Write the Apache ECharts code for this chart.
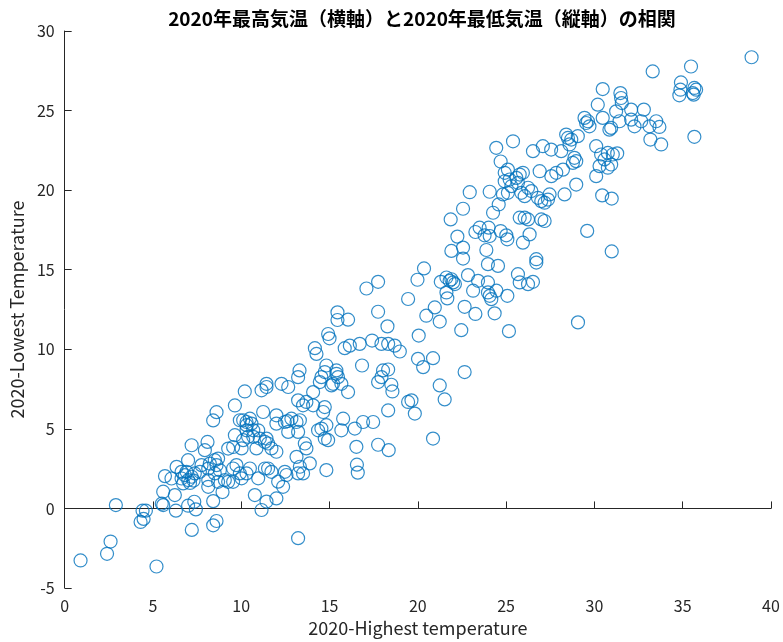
<!DOCTYPE html>
<html>
<head>
<meta charset="utf-8">
<script src="https://cdn.jsdelivr.net/npm/echarts@6/dist/echarts.min.js"></script>
<style>
html,body{margin:0;padding:0;background:#fff;}
#chart{width:783px;height:642px;}
</style>
</head>
<body>
<div id="chart"></div>
<script>
// 2020 daily highest temperature (x) and lowest temperature (y)
const highTemp = [
0.9,2.4,2.6,2.9,4.3,4.47,4.41,4.6,5.2,9.64,8.6,8.41,9.64,7.19,8.09,7.94,9.26,9.54,6.99,6.34,
5.68,6.05,6.62,6.81,7.0,7.19,6.71,7.37,7.75,8.13,8.22,8.5,8.69,8.6,8.79,8.5,8.13,8.13,8.69,9.07,
9.26,9.54,9.54,8.94,8.41,5.58,6.24,5.58,5.5,6.3,6.99,7.34,7.43,7.2,8.41,8.6,7.66,9.73,6.62,7.1,
6.9,7.3,
13.3,13.22,14.73,14.82,15.39,15.48,15.67,16.05,15.2,14.45,14.54,14.07,12.28,12.66,11.43,11.43,11.15,10.2,11.24,11.99,
11.99,12.84,12.62,13.13,13.32,13.22,13.5,13.69,14.07,14.64,14.73,14.54,14.82,14.73,14.92,14.35,15.77,15.67,16.43,16.52,
16.55,16.6,14.82,13.22,13.6,13.69,13.13,13.32,13.22,13.88,13.5,12.47,12.56,12.37,12.09,11.99,11.43,11.15,10.77,10.96,
11.52,11.34,11.71,10.49,10.02,9.92,10.3,13.22,10.02,10.11,10.68,11.05,10.86,11.52,11.71,11.99,11.34,10.3,10.39,10.96,
11.43,9.92,10.11,10.3,10.58,10.49,10.3,10.68,12.47,12.66,15.11,15.39,
20.35,19.98,21.3,21.62,21.8,22.0,21.9,22.1,21.62,21.67,20.96,20.48,21.24,19.45,17.75,17.09,17.75,18.28,20.05,20.01,
20.3,20.86,21.24,21.52,20.86,15.45,15.45,16.05,14.92,15.0,14.17,14.26,15.86,16.15,16.71,17.41,17.94,18.32,18.69,18.98,
16.84,18.03,18.32,17.94,17.75,18.5,18.56,16.9,17.47,17.75,18.32,19.45,19.64,19.83,18.35,22.65,
22.46,22.65,23.26,22.84,23.13,23.41,23.97,23.97,24.16,24.45,24.07,25.07,24.35,25.16,23.88,23.97,24.54,22.56,22.56,21.9,
22.24,21.86,22.56,22.94,23.26,23.5,23.78,24.01,24.07,24.69,25.01,25.07,24.26,24.58,24.82,25.1,24.07,24.92,25.1,25.2,
24.92,25.3,25.58,25.77,25.95,25.67,25.86,26.05,26.24,26.43,24.69,25.77,26.05,26.24,25.95,26.33,26.71,26.71,25.67,25.77,
26.24,26.52,26.8,26.99,27.18,27.37,27.46,26.9,27.56,27.84,28.22,28.78,28.97,27.18,26.99,28.31,28.97,29.07,
25.39,24.44,26.52,27.08,27.55,28.12,28.4,28.5,28.69,28.59,29.06,28.87,
38.9,35.47,33.3,34.9,34.87,34.81,35.66,35.76,35.57,35.62,35.66,30.47,31.47,31.51,31.55,30.19,31.23,32.08,32.8,30.47,
30.95,30.85,31.42,32.08,32.27,32.65,33.12,33.5,33.68,33.17,33.78,29.44,29.63,29.72,29.53,30.1,30.38,30.76,31.04,31.29,
30.57,30.95,30.76,30.29,30.1,30.44,30.98,29.59,30.98
];
const lowTemp = [
-3.27,-2.85,-2.08,0.21,-0.85,-0.66,-0.14,-0.14,-3.65,6.47,6.05,5.53,4.6,3.97,4.18,3.66,3.76,3.86,3.03,2.61,
2.03,1.88,1.88,2.09,1.78,1.99,1.57,2.2,2.72,2.5,2.82,3.03,3.13,2.72,2.4,2.2,1.78,1.36,1.67,1.78,
1.67,2.51,1.67,1.03,0.46,1.05,0.84,0.21,0.3,-0.14,0.17,0.42,-0.06,-1.35,-1.06,-0.79,2.3,2.72,2.3,1.6,
2.3,1.75,
8.67,8.25,8.57,8.98,8.67,8.25,7.83,7.31,7.83,7.94,8.25,7.31,7.83,7.63,7.83,7.63,7.42,7.35,6.06,5.85,
5.33,5.64,5.48,5.43,5.54,6.79,6.48,6.69,6.48,6.06,6.37,5.02,5.23,4.39,4.29,4.91,5.64,4.91,5.02,3.87,
2.75,2.25,2.41,4.81,4.08,3.77,3.24,2.62,2.2,2.83,2.2,2.3,2.1,1.36,1.68,0.63,0.43,-0.1,0.84,1.89,
2.51,2.51,2.3,2.51,1.89,2.2,2.2,-1.87,3.77,4.29,4.5,4.39,3.77,4.08,3.77,3.56,4.18,4.91,4.5,4.91,
4.39,5.54,5.54,5.43,5.33,5.64,5.23,4.91,5.43,4.81,7.73,8.46,
15.08,14.37,14.24,14.51,14.3,14.2,14.4,14.1,13.57,13.2,12.63,12.11,11.74,13.16,14.24,13.82,12.36,11.44,10.86,9.4,
8.88,9.44,7.73,6.85,4.39,12.32,11.84,11.86,10.96,10.69,10.07,9.71,10.07,10.23,10.34,10.55,10.34,10.34,10.23,9.86,
8.98,8.67,8.73,8.25,7.94,7.77,7.35,5.43,5.43,4.0,6.16,6.69,6.79,5.96,3.66,8.57,
11.2,12.67,12.22,14.66,13.68,14.3,14.2,13.57,13.15,13.68,13.36,13.36,12.26,11.14,16.24,15.35,15.24,15.7,16.39,16.18,
17.08,18.16,18.83,19.87,17.37,17.64,17.16,17.64,17.12,17.43,17.16,16.91,18.58,19.1,19.73,19.83,19.9,21.09,21.29,20.67,
20.56,20.25,20.77,20.98,21.09,20.46,19.83,19.62,20.15,19.94,21.8,18.27,18.27,18.16,16.7,17.22,15.66,15.45,14.72,14.2,
14.09,14.24,19.52,19.31,19.21,19.41,19.73,21.19,20.88,21.09,21.29,21.71,21.82,18.06,18.16,19.73,20.35,11.69,
23.07,22.66,22.45,22.76,22.55,22.45,23.49,23.28,23.18,22.87,23.39,22.03,
28.35,27.77,27.46,26.77,26.31,25.96,26.42,26.31,26.1,26.0,23.35,26.35,26.1,25.79,25.47,25.37,24.95,25.06,25.06,24.54,
23.91,23.8,24.33,24.43,24.01,24.33,24.01,24.33,23.97,23.18,22.87,24.54,24.33,24.01,24.22,22.76,22.24,22.34,22.24,22.31,
21.93,21.61,21.41,21.51,20.88,19.67,19.47,17.44,16.15
];
const titleText = '2020年最高気温（横軸）と2020年最低気温（縦軸）の相関';
const xName = '2020-Highest temperature';
const yName = '2020-Lowest Temperature';

const points = highTemp.map((x, i) => [x, lowTemp[i]]);
const axisColor = '#262626';
const font = 'Noto Sans CJK JP';

const chart = echarts.init(document.getElementById('chart'), null, {renderer: 'canvas'});
chart.setOption({
  animation: false,
  backgroundColor: '#ffffff',
  title: {
    text: titleText,
    left: 417,
    top: 4,
    textAlign: 'center',
    textStyle: {fontSize: 19, fontWeight: 'bold', color: '#000', fontFamily: font}
  },
  grid: {left: 64, right: 12, top: 31, bottom: 53, containLabel: false},
  xAxis: {
    type: 'value', min: 0, max: 40, interval: 5,
    name: xName, nameLocation: 'middle', nameGap: 31,
    nameTextStyle: {fontSize: 18, color: axisColor, fontFamily: font},
    axisLine: {show: true, lineStyle: {color: axisColor, width: 1}},
    axisTick: {show: true, inside: true, length: 7, lineStyle: {color: axisColor}},
    axisLabel: {fontSize: 16, color: axisColor, margin: 10, fontFamily: font},
    splitLine: {show: false}
  },
  yAxis: {
    type: 'value', min: -5, max: 30, interval: 5,
    name: yName, nameLocation: 'middle', nameGap: 37, nameRotate: 90,
    nameTextStyle: {fontSize: 18, color: axisColor, fontFamily: font},
    axisLine: {show: true, lineStyle: {color: axisColor, width: 1}},
    axisTick: {show: true, inside: true, length: 7, lineStyle: {color: axisColor}},
    axisLabel: {fontSize: 16, color: axisColor, margin: 10, fontFamily: font},
    splitLine: {show: false}
  },
  series: [{
    type: 'scatter',
    data: points,
    symbol: 'circle',
    symbolSize: 13,
    itemStyle: {color: 'rgba(0,0,0,0)', borderColor: '#0072BD', borderWidth: 1.2},
    emphasis: {disabled: true},
    silent: true
  }]
});
</script>
</body>
</html>
